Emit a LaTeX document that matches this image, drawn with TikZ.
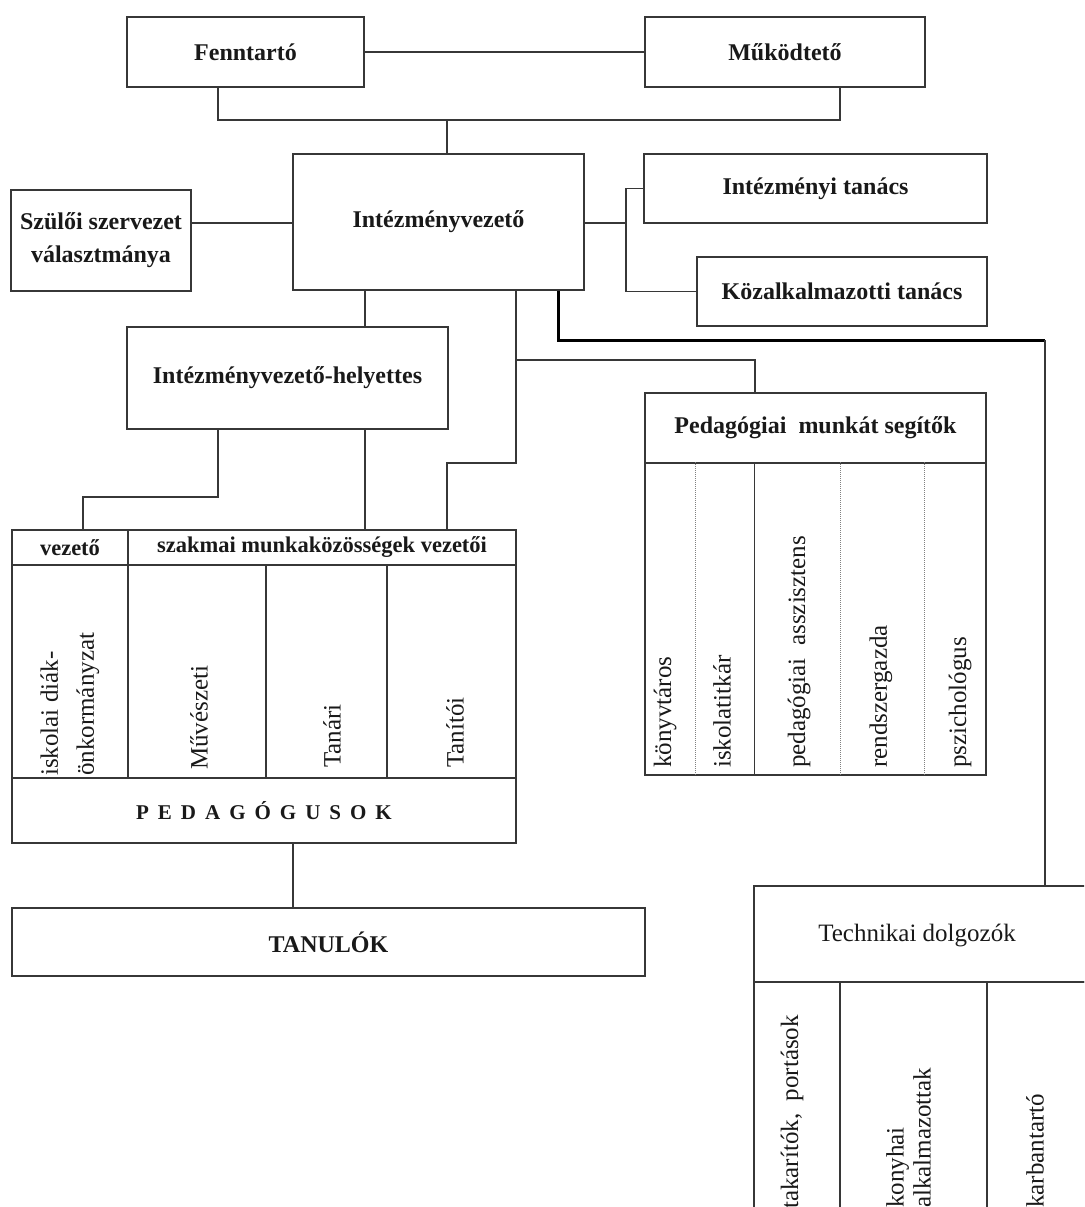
\documentclass[tikz,border=0pt]{standalone}
\usepackage{fontspec}
\setmainfont{Liberation Serif}
\definecolor{linec}{RGB}{55,55,55}
\definecolor{txtc}{RGB}{25,25,25}
\newcommand\bfhead{\fontsize{24}{33}\selectfont\bfseries}
\newcommand\bfsmallhead{\fontsize{22.5}{27}\selectfont\bfseries}
\newcommand\rmrot{\fontsize{25}{27}\selectfont}
\newcommand\gapx{\hspace{9pt}}
\tikzset{
  ln/.style={draw=linec, line width=1.3pt},
  thk/.style={draw=black, line width=3pt, line join=miter},
  box/.style={ln, rectangle, inner sep=0pt, text=txtc, font=\bfhead, align=center},
  cell/.style={ln, rectangle, inner sep=0pt},
  rottext/.style={rotate=90, anchor=west, inner sep=0pt, text=txtc, font=\rmrot, align=left},
  dots/.style={draw=gray, line width=1pt, dash pattern=on 1pt off 1pt},
  thinsolid/.style={draw=linec, line width=1pt}
}
\begin{document}
\begin{tikzpicture}[x=1pt, y=-1pt]
\useasboundingbox (0,0) rectangle (1084,1207);
\fill[white] (0,0) rectangle (1084,1207);
\clip (0,0) rectangle (1084,1207);

% top boxes
\node[box, minimum width=237pt, minimum height=70pt] (fenn) at (245.5,52) {Fenntartó};
\node[box, minimum width=280pt, minimum height=70pt] (mukod) at (785,52) {Működtető};
\node[box, minimum width=291pt, minimum height=136pt] (ivez) at (438.5,222) {Intézményvezető};
\node[box, minimum width=180pt, minimum height=101pt] (szul) at (101,240.5) {Szülői szervezet\\választmánya};
\node[box, minimum width=343pt, minimum height=69pt] (itan) at (815.5,188.5) {Intézményi tanács};
\node[box, minimum width=290pt, minimum height=69pt] (kozt) at (842,291.5) {Közalkalmazotti tanács};
\node[box, minimum width=321pt, minimum height=102pt] (helyt) at (287.5,378) {Intézményvezető-helyettes};

% left table
\node[box, font=\bfsmallhead, minimum width=116pt, minimum height=35pt] (vez) at (70,547.5) {vezető};
\node[box, font=\bfsmallhead, minimum width=388pt, minimum height=35pt] (szak) at (322,547.5) {szakmai munkaközösségek vezetői};
\node[cell, minimum width=116pt, minimum height=213pt] (c1) at (70,671.5) {};
\node[cell, minimum width=138pt, minimum height=213pt] (c2) at (197,671.5) {};
\node[cell, minimum width=121pt, minimum height=213pt] (c3) at (326.5,671.5) {};
\node[cell, minimum width=129pt, minimum height=213pt] (c4) at (451.5,671.5) {};
\node[rottext, font={\fontsize{25}{36}\selectfont}] (t1) at (70,776) {iskolai diák-\\önkormányzat};
\node[rottext] (t2) at (199,770) {Művészeti};
\node[rottext] (t3) at (332,768) {Tanári};
\node[rottext] (t4) at (455,768) {Tanítói};
\node[box, font={\fontsize{21}{25}\selectfont\bfseries}, minimum width=504pt, minimum height=65pt] (ped) at (264,810.5) {P\gapx E\gapx D\gapx A\gapx G\gapx Ó\gapx G\gapx U\gapx S\gapx O\gapx K};
\node[box, minimum width=633pt, minimum height=68pt] (tanul) at (328.5,942) {TANULÓK};

% pedagogiai munkat segitok
\node[box, minimum width=341pt, minimum height=70pt] (pedh) at (815.5,428) {Pedagógiai\ \ munkát segítők};
\node[cell, minimum width=341pt, minimum height=312pt] (pedb) at (815.5,619) {};
\draw[dots] ([xshift=51pt]pedb.north west) -- ([xshift=51pt]pedb.south west);
\draw[thinsolid] ([xshift=110pt]pedb.north west) -- ([xshift=110pt]pedb.south west);
\draw[dots] ([xshift=196pt]pedb.north west) -- ([xshift=196pt]pedb.south west);
\draw[dots] ([xshift=280pt]pedb.north west) -- ([xshift=280pt]pedb.south west);
\node[rottext] (p1) at (665,768) {könyvtáros};
\node[rottext] (p2) at (722,768) {iskolatitkár};
\node[rottext] (p3) at (799,768) {pedagógiai\ \ asszisztens};
\node[rottext] (p4) at (881,768) {rendszergazda};
\node[rottext] (p5) at (960,768) {pszichológus};

% technikai dolgozok
\node[cell, minimum width=346pt, minimum height=96pt] (techbox) at (927,934) {};
\node[inner sep=0pt, text=txtc, font=\rmrot] (techlbl) at (917,935) {Technikai dolgozók};
\node[cell, minimum width=86pt, minimum height=248pt] (tc1) at (797,1106) {};
\node[cell, minimum width=147pt, minimum height=248pt] (tc2) at (913.5,1106) {};
\node[cell, minimum width=113pt, minimum height=248pt] (tc3) at (1043.5,1106) {};
\node[rottext] (q1) at (792,1209) {takarítók,\ \ portások};
\node[rottext] (q2) at (908.5,1208) {konyhai\\alkalmazottak};
\node[rottext] (q3) at (1035,1208) {karbantartó};

% helper coordinates
\coordinate (xa) at (218,0);
\coordinate (xb) at (840,0);
\coordinate (bus) at (447,120);
\coordinate (ly) at (0,223);
\coordinate (rj) at (626,223);
\coordinate (xc) at (365,0);
\coordinate (k1) at (516,463);
\coordinate (k2) at (516,360);
\coordinate (xe) at (755,0);
\coordinate (k3) at (218,497);
\coordinate (xf) at (83,0);
\coordinate (xg) at (293,0);
\coordinate (xh) at (558,0);
\coordinate (k4) at (558,340);
\coordinate (k5) at (1045,340);

% connectors
\draw[ln] (fenn.east) -- (mukod.west);
\draw[ln] (fenn.south -| xa) |- (bus) -| (mukod.south -| xb);
\draw[ln] (bus) -- (ivez.north -| bus);
\draw[ln] (szul.east |- ly) -- (ivez.west |- ly);
\draw[ln] (ivez.east |- rj) -- (rj);
\draw[ln] (itan.west) -| (kozt.west -| rj) -- (kozt.west);
\draw[ln] (ivez.south -| xc) -- (helyt.north -| xc);
\draw[ln] (ivez.south -| k1) -- (k1) -| (szak.north -| bus);
\draw[ln] (k2) -| (pedh.north -| xe);
\draw[ln] (helyt.south -| k3) -- (k3) -| (vez.north -| xf);
\draw[ln] (helyt.south -| xc) -- (szak.north -| xc);
\draw[ln] (ped.south -| xg) -- (tanul.north -| xg);
\draw[thk] (ivez.south -| xh) -- (k4) -- (k5);
\draw[ln] (k5) -- (techbox.north -| k5);
\end{tikzpicture}
\end{document}
